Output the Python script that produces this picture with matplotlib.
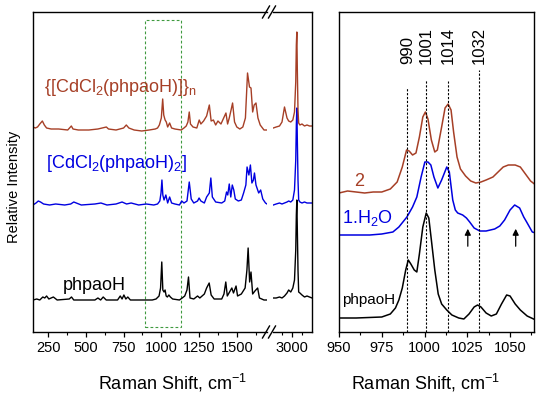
import matplotlib

matplotlib.use("Agg")
import matplotlib.pyplot as plt
from matplotlib.lines import Line2D
from matplotlib.patches import Rectangle
from matplotlib.ticker import MultipleLocator


OUTPUT_FILE = "out.png"

RED = "#a63f26"
BLUE = "#0000e0"
BLACK = "#000000"
GREEN = "#3f9a3f"

# ---- left panel, low wavenumber part (cm-1, intensity above own baseline)
BLACK_LOW_X = [150, 175, 195, 215, 228, 240, 255, 285, 310, 390, 405, 420, 560, 580, 598,
               615, 635, 710, 728, 740, 752, 765, 778, 795, 940, 965, 985, 995, 1003, 1010,
               1018, 1025, 1032, 1040, 1050, 1060, 1075, 1120, 1138, 1155, 1170, 1180, 1190,
               1215, 1240, 1255, 1285, 1300, 1317, 1330, 1350, 1400, 1415, 1427, 1437, 1452,
               1467, 1478, 1495, 1505, 1530, 1555, 1567, 1575, 1585, 1594, 1605, 1620, 1638,
               1650, 1680, 1700]
BLACK_LOW_Y = [0, 1, 0, 3, 2, 4, 1, 3, 0, 1, 3, 0, 0, 2, 0, 3, 0, 0, 4, 1, 5, 1, 3, 0, 0, 1,
               4, 12, 38, 10, 8, 10, 4, 3, 5, 3, 1, 0, 2, 4, 10, 23, 2, 1, 4, 2, 6, 12, 17, 5,
               1, 1, 6, 18, 4, 8, 12, 7, 14, 4, 6, 12, 30, 52, 18, 28, 6, 9, 12, 2, 0, 0]

BLUE_LOW_X = [150, 170, 185, 200, 220, 260, 300, 360, 400, 420, 470, 560, 600, 640, 700, 740,
              770, 800, 850, 900, 950, 975, 990, 998, 1004, 1010, 1018, 1030, 1042, 1055,
              1068, 1090, 1120, 1135, 1150, 1170, 1185, 1198, 1215, 1240, 1250, 1262, 1285,
              1300, 1318, 1328, 1338, 1360, 1400, 1420, 1432, 1440, 1450, 1460, 1470, 1480,
              1490, 1510, 1530, 1545, 1560, 1568, 1580, 1590, 1600, 1610, 1617, 1627, 1645,
              1658, 1672, 1690, 1700]
BLUE_LOW_Y = [0, 2, 4, 3, 1, 0, 1, 0, 1, 3, 0, 1, 2, 0, 1, 3, 1, 2, 0, 1, 0, 1, 4, 12, 25,
              10, 5, 10, 2, 8, 2, 1, 0, 4, 2, 4, 23, 6, 2, 4, 7, 4, 2, 8, 12, 27, 8, 3, 2, 4,
              13, 10, 21, 8, 20, 15, 6, 4, 5, 12, 20, 38, 30, 40, 22, 25, 32, 20, 12, 15, 6,
              2, 1]

RED_LOW_X = [150, 165, 180, 195, 212, 225, 240, 270, 320, 380, 404, 415, 450, 520, 580, 636,
             650, 700, 750, 768, 785, 820, 870, 920, 960, 975, 987, 1000, 1009, 1016, 1025,
             1033, 1042, 1055, 1068, 1090, 1132, 1150, 1165, 1176, 1185, 1193, 1210, 1235,
             1251, 1262, 1280, 1300, 1318, 1330, 1345, 1360, 1375, 1395, 1410, 1428, 1439,
             1450, 1462, 1472, 1485, 1500, 1520, 1540, 1557, 1571, 1584, 1594, 1605, 1615,
             1627, 1640, 1655, 1680, 1700]
RED_LOW_Y = [3, 2, 3, 6, 9, 5, 2, 1, 1, 0, 4, 1, 0, 0, 1, 3, 1, 0, 2, 5, 2, 0, -1, 0, 1, 2,
             5, 12, 31, 15, 10, 8, 3, 7, 2, 1, 0, 2, 4, 8, 18, 6, 3, 2, 10, 6, 9, 14, 25, 9,
             10, 5, 9, 6, 11, 17, 6, 12, 20, 27, 8, 3, 1, 3, 12, 57, 43, 42, 18, 25, 27, 12,
             5, 0, 0]

# ---- left panel, C-H stretching part
HIGH_X = [2775, 2810, 2850, 2880, 2910, 2940, 2960, 2985, 3010, 3030, 3045, 3052, 3058,
          3064, 3072, 3080, 3095, 3120, 3150, 3180, 3210, 3240]
BLACK_HIGH_Y = [2, 2, 3, 2, 4, 7, 10, 8, 12, 20, 50, 85, 100, 70, 30, 8, 7, 5, 3, 4, 3, 2]
BLUE_HIGH_Y = [0, 1, 2, 1, 2, 3, 4, 3, 5, 15, 45, 80, 97, 65, 25, 5, 3, 2, 3, 2, 2, 2]
RED_HIGH_Y = [2, 3, 4, 8, 23, 12, 9, 8, 10, 18, 48, 85, 98, 60, 20, 7, 5, 6, 4, 5, 4, 4]

# stacking offsets of the left panel
OFFSETS = {"black": 32, "blue": 127, "red": 202}

# ---- right panel (zoom 950-1065 cm-1)
RED_ZOOM_X = [950, 955, 960, 965, 970, 975, 980, 984, 987, 989.5, 991, 993, 995, 997, 999,
              1000.5, 1002, 1004, 1006, 1007.5, 1010, 1012, 1013.8, 1015.5, 1017, 1019,
              1021, 1024, 1027, 1030, 1033, 1036, 1040, 1043, 1046, 1049, 1053, 1056, 1059,
              1062, 1065]
RED_ZOOM_Y = [139, 141, 140, 139, 140, 140, 143, 150, 165, 182, 181, 177, 179, 195, 215,
              220, 213, 192, 180, 182, 205, 224, 228, 222, 200, 175, 163, 156, 151, 149,
              150, 152, 155, 160, 165, 167, 167, 165, 158, 151, 147]

BLUE_ZOOM_X = [950, 960, 968, 975, 981.5, 985, 989.7, 993, 995.5, 998, 1000.2, 1002, 1003.7,
               1005.5, 1007.8, 1010, 1013, 1014.5, 1016.5, 1018, 1019.4, 1022.3, 1024.5,
               1026.4, 1029, 1032.3, 1036, 1041, 1044, 1046.8, 1050, 1052.7, 1055.6, 1058,
               1059.7, 1063, 1065]
BLUE_ZOOM_Y = [97, 97, 97, 98, 100, 105, 115, 125, 135, 155, 170, 170, 167, 155, 144, 152,
               165, 160, 132, 122, 119, 117, 114, 110, 104, 101, 101, 103, 106, 112, 122,
               127, 124, 115, 110, 100, 99]

BLACK_ZOOM_X = [950, 960, 975, 980, 983, 985, 987, 989, 990.5, 992, 994, 995.5, 997, 999,
                1001, 1002.5, 1004, 1006, 1008, 1010, 1013, 1016, 1020, 1023, 1026, 1029,
                1031, 1033, 1036, 1039, 1042, 1045, 1048, 1050, 1053, 1056, 1060, 1065]
BLACK_ZOOM_Y = [14, 14, 15, 18, 24, 32, 44, 62, 72, 68, 62, 60, 78, 105, 119, 114, 92, 62,
                38, 28, 22, 17, 14, 13, 18, 25, 27, 25, 19, 16, 18, 28, 37, 36, 28, 22, 16, 12]

MARKER_LINES = [990, 1001, 1014, 1032]
MARKER_TOPS = [244, 252, 251, 262]
ARROW_X = [1025.3, 1053.3]


def style_axis(ax):
    for spine in ax.spines.values():
        spine.set_linewidth(1.0)
    ax.tick_params(axis="x", which="major", direction="out", length=3.5, width=0.9,
                   labelsize=10.5, pad=3)
    ax.tick_params(axis="x", which="minor", direction="out", length=2, width=0.8)
    ax.set_yticks([])
    ax.set_ylim(0, 320)


def break_marks(fig, x_px, y_px):
    dx, dy = 3.5 / 550, 6 / 399
    for x in x_px:
        for y in y_px:
            xf, yf = x / 550, 1 - y / 399
            fig.add_artist(Line2D([xf - dx, xf + dx], [yf - dy, yf + dy],
                                  color="black", lw=1.0, transform=fig.transFigure))


def build_plot():
    plt.rcParams["font.family"] = ["Liberation Sans", "DejaVu Sans"]
    plt.rcParams["mathtext.fontset"] = "custom"
    plt.rcParams["mathtext.rm"] = "Liberation Sans"
    plt.rcParams["mathtext.it"] = "Liberation Sans:italic"

    fig = plt.figure(figsize=(5.5, 3.99), dpi=100)
    ax_low = fig.add_axes([33 / 550, 1 - 332 / 399, 234 / 550, 320 / 399])
    ax_high = fig.add_axes([273 / 550, 1 - 332 / 399, 39 / 550, 320 / 399])
    ax_zoom = fig.add_axes([339 / 550, 1 - 332 / 399, 195 / 550, 320 / 399])

    for ax in (ax_low, ax_high, ax_zoom):
        style_axis(ax)

    # left panel
    for xs, ys, key, color in [
        (BLACK_LOW_X, BLACK_LOW_Y, "black", BLACK),
        (BLUE_LOW_X, BLUE_LOW_Y, "blue", BLUE),
        (RED_LOW_X, RED_LOW_Y, "red", RED),
    ]:
        ax_low.plot(xs, [v + OFFSETS[key] for v in ys], color=color, lw=1.0)
    for ys, key, color in [
        (BLACK_HIGH_Y, "black", BLACK),
        (BLUE_HIGH_Y, "blue", BLUE),
        (RED_HIGH_Y, "red", RED),
    ]:
        ax_high.plot(HIGH_X, [v + OFFSETS[key] for v in ys], color=color, lw=1.0)

    ax_low.set_xlim(150, 1700)
    ax_low.xaxis.set_major_locator(MultipleLocator(250))
    ax_low.xaxis.set_minor_locator(MultipleLocator(125))
    ax_low.spines["right"].set_visible(False)

    ax_high.set_xlim(2772, 3240)
    ax_high.xaxis.set_major_locator(MultipleLocator(250))
    ax_high.xaxis.set_minor_locator(MultipleLocator(125))
    ax_high.spines["left"].set_visible(False)

    ax_low.add_patch(Rectangle((890, 5), 240, 307, fill=False, edgecolor=GREEN,
                               lw=0.8, ls=(0, (2.5, 2))))

    ax_low.text(225, 244, r"{[CdCl$_2$(phpaoH)]}$_\mathrm{n}$", color=RED, fontsize=13,
                va="center")
    ax_low.text(239, 169, "[CdCl$_2$(phpaoH)$_2$]", color=BLUE, fontsize=13, va="center")
    ax_low.text(345, 47, "phpaoH", color=BLACK, fontsize=13, va="center")

    break_marks(fig, [266, 272], [12, 332])

    fig.text(14 / 550, 1 - 187 / 399, "Relative Intensity", rotation=90,
             ha="center", va="center", fontsize=10.5)
    fig.text(172 / 550, 1 - 390 / 399, "Raman Shift, cm$^{-1}$", ha="center",
             va="baseline", fontsize=13)

    # right panel
    ax_zoom.plot(RED_ZOOM_X, RED_ZOOM_Y, color=RED, lw=1.1)
    ax_zoom.plot(BLUE_ZOOM_X, BLUE_ZOOM_Y, color=BLUE, lw=1.1)
    ax_zoom.plot(BLACK_ZOOM_X, BLACK_ZOOM_Y, color=BLACK, lw=1.1)
    ax_zoom.set_xlim(950, 1064)
    ax_zoom.xaxis.set_major_locator(MultipleLocator(25))
    ax_zoom.xaxis.set_minor_locator(MultipleLocator(12.5))

    for pos, top in zip(MARKER_LINES, MARKER_TOPS):
        ax_zoom.plot([pos, pos], [0, top], color="black", lw=0.8, ls=(0, (2, 1.5)))
        ax_zoom.text(pos, 268, str(pos), rotation=90, ha="center", va="bottom", fontsize=12)

    for pos in ARROW_X:
        ax_zoom.annotate("", xy=(pos, 106), xytext=(pos, 83),
                         arrowprops=dict(arrowstyle="-|>", color="black", lw=0.9,
                                         mutation_scale=9))

    ax_zoom.text(959, 150, "2", color=RED, fontsize=13, va="center")
    ax_zoom.text(952, 114, "1.H$_2$O", color=BLUE, fontsize=13, va="center")
    ax_zoom.text(951.5, 32, "phpaoH", color=BLACK, fontsize=11, va="center")

    fig.text(425 / 550, 1 - 390 / 399, "Raman Shift, cm$^{-1}$", ha="center",
             va="baseline", fontsize=13)

    fig.savefig(OUTPUT_FILE, dpi=100)
    plt.close(fig)


def main():
    build_plot()


if __name__ == "__main__":
    main()
